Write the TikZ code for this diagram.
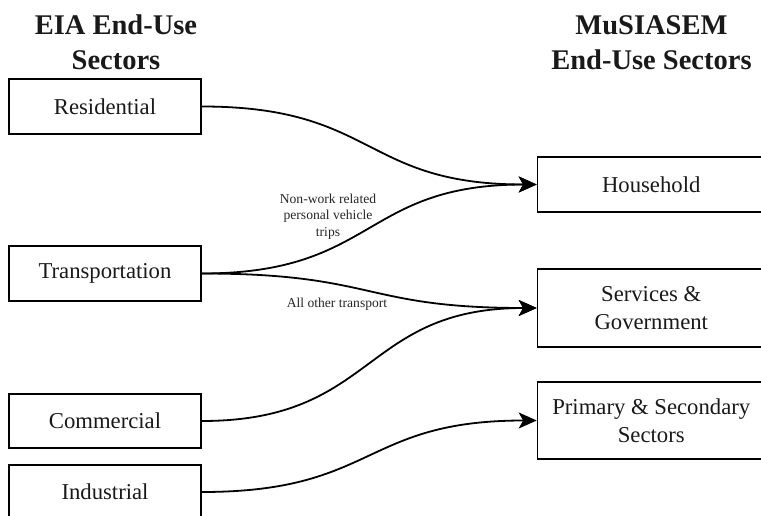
\documentclass[tikz,border=0pt]{standalone}
\usepackage{fontspec}
\setmainfont{Liberation Serif}
\usetikzlibrary{arrows.meta}
\begin{document}
\begin{tikzpicture}[x=1pt,y=-1pt,
  sbox/.style={draw=black,line width=1.6pt,rectangle,inner sep=0pt,
    font=\fontsize{22.7}{27.7}\selectfont,align=center,text=black!90},
  ttl/.style={font=\fontsize{28.5}{35.5}\selectfont\bfseries,align=center,text=black!90,inner sep=0pt},
  lbl/.style={font=\fontsize{13.6}{16.7}\selectfont,align=center,text=black!85,inner sep=0pt},
  flow/.style={line width=1.8pt,-{Stealth[length=18pt,width=16pt,inset=4.5pt]}}
]
\useasboundingbox (0,0) rectangle (761,516);
% titles
\node[ttl,anchor=base] (t1) at (116,34.3) {EIA End-Use};
\node[ttl,anchor=base] (t1b) at (116,70) {Sectors};
\node[ttl,anchor=base] (t2) at (651.5,35) {MuSIASEM};
\node[ttl,anchor=base] (t2b) at (651.5,70) {End-Use Sectors};
% left boxes
\node[sbox,minimum width=192pt,minimum height=55pt] (res) at (105,106.5) {Residential};
\node[sbox,minimum width=192pt,minimum height=55pt] (tra) at (105,273.5) {Transportation};
\node[sbox,minimum width=192pt,minimum height=54pt] (com) at (105,421) {Commercial};
\node[sbox,minimum width=192pt,minimum height=54pt] (ind) at (105,492) {Industrial};
% right boxes
\node[sbox,minimum width=227.5pt,minimum height=55pt] (hh) at (651.25,184.5) {Household};
\node[sbox,minimum width=227.5pt,minimum height=78pt] (sg) at (651.25,308) {Services \&\\Government};
\node[sbox,minimum width=227.5pt,minimum height=77pt] (ps) at (651.25,420.5) {Primary \& Secondary\\Sectors};
% connectors
\draw[flow] (res.east) .. controls +(175,0) and +(-175,0) .. (hh.west);
\draw[flow] (tra.east) .. controls +(175,0) and +(-175,0) .. (hh.west);
\draw[flow] (tra.east) .. controls +(175,0) and +(-175,0) .. (sg.west);
\draw[flow] (com.east) .. controls +(175,0) and +(-175,0) .. (sg.west);
\draw[flow] (ind.east) .. controls +(175,0) and +(-175,0) .. (ps.west);
% labels
\node[lbl] (l1) at (328,216.7) {Non-work related\\personal vehicle\\trips};
\node[lbl] (l2) at (337,304.3) {All other transport};
\end{tikzpicture}
\end{document}
